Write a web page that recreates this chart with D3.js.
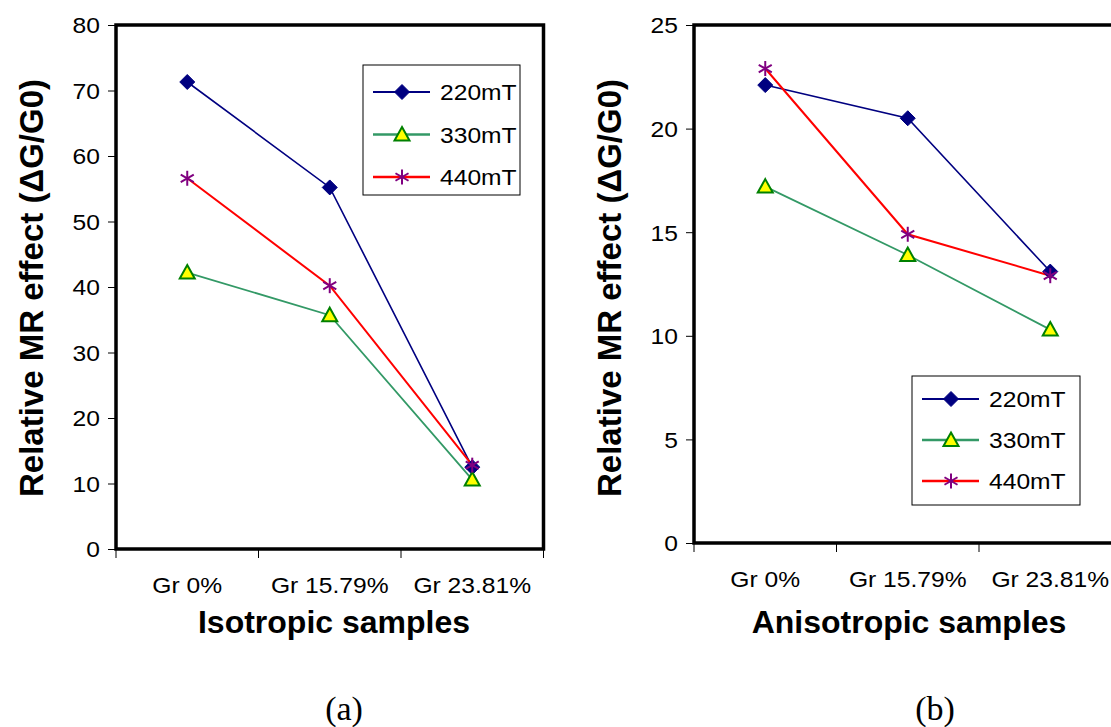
<!DOCTYPE html>
<html><head><meta charset="utf-8">
<script src="https://cdn.jsdelivr.net/npm/d3@7"></script>
<style>body{margin:0;background:#fff}svg{display:block}</style>
</head><body>
<svg id="c" width="1111" height="727"></svg>
<script>
const categories = ["Gr 0%", "Gr 15.79%", "Gr 23.81%"];
const seriesNames = ["220mT", "330mT", "440mT"];
const isoValues220 = [71.3, 55.2, 12.5];
const isoValues330 = [42.2, 35.7, 10.6];
const isoValues440 = [56.6, 40.2, 12.8];
const anisoValues220 = [22.1, 20.5, 13.1];
const anisoValues330 = [17.2, 13.9, 10.3];
const anisoValues440 = [22.9, 14.9, 12.9];
const isoTicks = [0, 10, 20, 30, 40, 50, 60, 70, 80];
const anisoTicks = [0, 5, 10, 15, 20, 25];

const lineColors = ["#000080", "#339966", "#ff0000"];
const lineWidths = [1.6, 1.8, 2];
const svg = d3.select("#c");
const font = "Liberation Sans, Arial, sans-serif";
const SX = 1.12; // horizontal stretch of small text

function stretchedText(g, x, y, txt, size, anchor) {
  return g.append("text").attr("transform", `translate(${x},${y}) scale(${SX},1)`)
    .attr("text-anchor", anchor || "start").attr("font-family", font)
    .attr("font-size", size).attr("fill", "#000").text(txt);
}

function panel(o) {
  const g = svg.append("g");
  const x = d3.scaleBand().domain(categories).range([o.x0, o.x0 + o.bw * 3]);
  const y = d3.scaleLinear().domain([0, o.ymax]).range([o.y0, o.y1]);
  const ya = g.append("g").attr("transform", `translate(${o.x0},0)`)
    .call(d3.axisLeft(y).tickValues(o.ticks).tickSize(8).tickPadding(8).tickFormat(d3.format("d")));
  ya.select(".domain").remove();
  ya.selectAll("line").attr("stroke", "#000").attr("stroke-width", 1);
  ya.selectAll("text").attr("font-family", font).attr("font-size", 22).attr("fill", "#000")
    .attr("dy", "0.36em")
    .attr("transform", `scale(${SX},1)`)
    .attr("x", -16 / SX);
  const bounds = [0, 1, 2, 3].map(i => o.x0 + i * o.bw);
  g.selectAll(".xt").data(bounds).enter().append("line")
    .attr("x1", d => d).attr("x2", d => d).attr("y1", o.y0).attr("y2", o.y0 + 9)
    .attr("stroke", "#000").attr("stroke-width", 1);
  categories.forEach(c => stretchedText(g, x(c) + x.bandwidth() / 2, o.xly, c, 22, "middle"));
  g.append("rect").attr("x", o.x0).attr("y", o.y1)
    .attr("width", o.bw * 3).attr("height", o.y0 - o.y1)
    .attr("fill", "none").attr("stroke", "#000").attr("stroke-width", 3.5);
  g.append("text").attr("transform", `translate(${o.ytx},${o.yty}) rotate(-90)`)
    .attr("text-anchor", "middle").attr("font-family", font).attr("font-weight", "bold")
    .attr("font-size", 33).text("Relative MR effect (ΔG/G0)");
  g.append("text").attr("x", o.xtx).attr("y", 633).attr("text-anchor", "middle")
    .attr("font-family", font).attr("font-weight", "bold").attr("font-size", 32).text(o.xtitle);
  g.append("text").attr("x", o.capx).attr("y", 720).attr("text-anchor", "middle")
    .attr("font-family", "Liberation Serif, Times New Roman, serif").attr("font-size", 34).text(o.cap);

  const line = d3.line().x((d, i) => x(categories[i]) + x.bandwidth() / 2).y(d => y(d));
  o.series.forEach((vals, si) => {
    g.append("path").datum(vals).attr("d", line).attr("fill", "none")
      .attr("stroke", lineColors[si]).attr("stroke-width", lineWidths[si]);
  });
  o.series.forEach((vals, si) => {
    vals.forEach((v, i) => marker(g, si, x(categories[i]) + x.bandwidth() / 2, y(v)));
  });
  const L = o.legend;
  g.append("rect").attr("x", L.x).attr("y", L.y).attr("width", L.w).attr("height", L.h)
    .attr("fill", "#fff").attr("stroke", "#000").attr("stroke-width", 1);
  seriesNames.forEach((s, si) => {
    const ly = L.y + L.first + si * L.step;
    g.append("line").attr("x1", L.x + 10).attr("x2", L.x + 67).attr("y1", ly).attr("y2", ly)
      .attr("stroke", lineColors[si]).attr("stroke-width", lineWidths[si] + 0.6);
    marker(g, si, L.x + 39, ly);
    stretchedText(g, L.x + 77, ly + 8, s, 22);
  });
}

function marker(g, si, cx, cy) {
  if (si === 0) {
    g.append("path").attr("d", `M${cx},${cy-7.5}L${cx+7.5},${cy}L${cx},${cy+7.5}L${cx-7.5},${cy}Z`)
      .attr("fill", "#000080").attr("stroke", "#000080").attr("stroke-width", 1);
  } else if (si === 1) {
    g.append("path").attr("d", `M${cx},${cy-7.5}L${cx+7.5},${cy+6}L${cx-7.5},${cy+6}Z`)
      .attr("fill", "#ffff00").attr("stroke", "#008000").attr("stroke-width", 2);
  } else {
    const r = 7.5;
    const p = [[0, -r, 0, r], [-r*0.87, -r*0.5, r*0.87, r*0.5], [-r*0.87, r*0.5, r*0.87, -r*0.5]];
    p.forEach(a => g.append("line").attr("x1", cx + a[0]).attr("y1", cy + a[1])
      .attr("x2", cx + a[2]).attr("y2", cy + a[3]).attr("stroke", "#800080").attr("stroke-width", 2));
  }
}

panel({x0: 116, bw: 142.5, y0: 549, y1: 25, ymax: 80, ticks: isoTicks,
  series: [isoValues220, isoValues330, isoValues440],
  xly: 593, ytx: 43, yty: 288, xtx: 334, xtitle: "Isotropic samples", capx: 344, cap: "(a)",
  legend: {x: 363, y: 65, w: 157, h: 130, first: 27, step: 42.5}});
panel({x0: 694, bw: 142.5, y0: 543, y1: 25, ymax: 25, ticks: anisoTicks,
  series: [anisoValues220, anisoValues330, anisoValues440],
  xly: 587, ytx: 621, yty: 288, xtx: 909, xtitle: "Anisotropic samples", capx: 935, cap: "(b)",
  legend: {x: 912, y: 376, w: 168, h: 129, first: 23, step: 41}});
</script>
</body></html>
